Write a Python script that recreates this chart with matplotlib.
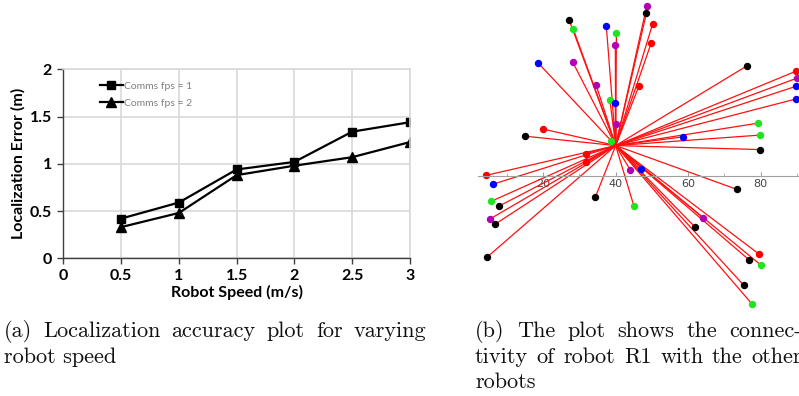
import matplotlib.pyplot as plt

# (a) localization error vs robot speed
speed = [0.5, 1, 1.5, 2, 2.5, 3]
err_fps1 = [0.42, 0.59, 0.94, 1.02, 1.34, 1.44]
err_fps2 = [0.33, 0.48, 0.88, 0.98, 1.07, 1.23]
series_labels = ["Comms fps = 1", "Comms fps = 2"]

# (b) connectivity of robot R1 with the other robots
r1_pos = (40, 8.4)
robot_x = [48.6, 48.5, 50.2, 49.8, 27.1, 28.3, 37.4, 40.2, 39.9, 18.6,
           28.1, 34.6, 46.4, 38.4, 39.9, 40.1, 38.7, 76.4, 89.7, 90.0,
           89.9, 89.9, 79.4, 79.9, 58.5, 79.9, 19.8, 14.9, 31.8, 31.9,
           4.3, 6.0, 5.6, 7.8, 5.4, 6.7, 4.5, 34.4, 44.0, 46.9,
           45.0, 73.5, 64.2, 61.9, 79.5, 76.9, 80.1, 75.4, 77.7]
robot_y = [47.0, 45.0, 42.0, 36.7, 43.2, 40.5, 41.5, 39.4, 36.1, 31.2,
           31.5, 25.1, 24.8, 20.9, 20.2, 14.4, 9.6, 30.5, 28.9, 27.0,
           24.8, 21.3, 14.6, 11.3, 10.8, 7.3, 13.0, 11.0, 6.2, 4.0,
           0.2, -2.3, -7.0, -8.3, -11.8, -13.3, -22.4, -5.8, 1.7, 1.9,
           -8.2, -3.7, -11.6, -14.1, -21.5, -23.2, -24.6, -30.2, -35.4]
robot_col = ["m", "k", "r", "r", "k", "g", "b", "g", "m", "b",
             "m", "m", "r", "g", "b", "m", "g", "k", "r", "m",
             "b", "b", "g", "g", "b", "k", "r", "k", "r", "r",
             "r", "b", "g", "k", "m", "k", "k", "k", "m", "b",
             "g", "k", "m", "k", "r", "k", "g", "k", "g"]
x_ticks_b = [20, 40, 60, 80]

caption_a = [["(a)", "Localization", "accuracy", "plot", "for", "varying"],
             ["robot speed"]]
caption_b = [["(b)", "The", "plot", "shows", "the", "connec-"],
             ["tivity", "of", "robot", "R1", "with", "the", "other"],
             ["robots"]]

COLORS = {"m": "#b400b4", "k": "#000000", "r": "#ff0000",
          "g": "#1ee61e", "b": "#0000ff"}


def justified(fig, words, x0, x1, y, **kw):
    # spread words over [x0, x1] like a justified LaTeX line
    r = fig.canvas.get_renderer()
    texts = [fig.text(0, y, w, **kw) for w in words]
    widths = [t.get_window_extent(r).width for t in texts]
    W = fig.bbox.width
    gap = ((x1 - x0) * W - sum(widths)) / (len(words) - 1)
    x = x0 * W
    for t, w in zip(texts, widths):
        t.set_x(x / W)
        x += w + gap


def plot_error(ax):
    font = dict(family="Lato", weight="bold", size=11.5)
    ax.plot(speed, err_fps1, color="black", lw=1.6, marker="s", ms=5.5,
            label=series_labels[0])
    ax.plot(speed, err_fps2, color="black", lw=1.6, marker="^", ms=6.5,
            label=series_labels[1])
    ax.set_xlim(0, 3)
    ax.set_ylim(0, 2)
    ax.set_xticks([0, 0.5, 1, 1.5, 2, 2.5, 3])
    ax.set_xticklabels(["0", "0.5", "1", "1.5", "2", "2.5", "3"], fontdict=font)
    ax.set_yticks([0, 0.5, 1, 1.5, 2])
    ax.set_yticklabels(["0", "0.5", "1", "1.5", "2"], fontdict=font)
    ax.grid(True, color="#d9d9d9", lw=1.2)
    ax.set_axisbelow(True)
    for s in ["top", "right"]:
        ax.spines[s].set_color("#d9d9d9")
        ax.spines[s].set_linewidth(1.2)
    for s in ["left", "bottom"]:
        ax.spines[s].set_color("#404040")
        ax.spines[s].set_linewidth(1.0)
    ax.tick_params(direction="out", length=4, width=1, color="#404040", pad=4)
    ax.set_xlabel("Robot Speed (m/s)", fontdict=font, labelpad=1)
    ax.set_ylabel("Localization Error (m)", fontdict=font, labelpad=3)
    ax.legend(loc="upper left", bbox_to_anchor=(0.105, 0.935), frameon=False,
              borderpad=0, borderaxespad=0, handlelength=2.2, handletextpad=0.15,
              labelspacing=0.75, labelcolor="#7f7f7f",
              prop=dict(family="Lato", size=7.5))


def plot_links(ax):
    for x, y in zip(robot_x, robot_y):
        ax.plot([r1_pos[0], x], [r1_pos[1], y], color="#ff1010", lw=0.9)
    for x, y, c in zip(robot_x, robot_y, robot_col):
        ax.plot(x, y, "o", color=COLORS[c], ms=4.3, mec=COLORS[c], clip_on=False)
    ax.set_xlim(1.96, 90.63)
    ax.set_ylim(-37.0, 48.6)
    for s in ["top", "right", "left"]:
        ax.spines[s].set_visible(False)
    ax.spines["bottom"].set_position(("data", 0))
    ax.spines["bottom"].set_color("#a0a0a0")
    ax.spines["bottom"].set_linewidth(0.8)
    ax.set_yticks([])
    ax.set_xticks(x_ticks_b)
    ax.set_xticks([10, 30, 50, 70, 90], minor=True)
    ax.tick_params(axis="x", which="major", direction="in", length=3,
                   color="#a0a0a0", labelsize=8, labelcolor="#444444", pad=2)
    ax.tick_params(axis="x", which="minor", direction="in", length=2,
                   color="#a0a0a0")


def main():
    fig = plt.figure(figsize=(7.99, 3.96), dpi=100)
    ax1 = fig.add_axes([0.0792, 0.3477, 0.4339, 0.4773])
    ax2 = fig.add_axes([0.5982, 0.2172, 0.4018, 0.7828])
    plot_error(ax1)
    plot_links(ax2)

    cap = dict(family="cmr10", size=16, va="baseline", color="#111111")
    justified(fig, caption_a[0], 4 / 799, 426 / 799, (396 - 336.7) / 396, **cap)
    fig.text(4 / 799, (396 - 363.3) / 396, caption_a[1][0], **cap)
    justified(fig, caption_b[0], 475 / 799, 802 / 799, (396 - 336.7) / 396, **cap)
    justified(fig, caption_b[1], 475 / 799, 802 / 799, (396 - 362.7) / 396, **cap)
    fig.text(475 / 799, (396 - 388) / 396, caption_b[2][0], **cap)

    fig.savefig("out.png", dpi=100)


if __name__ == '__main__':
    main()
